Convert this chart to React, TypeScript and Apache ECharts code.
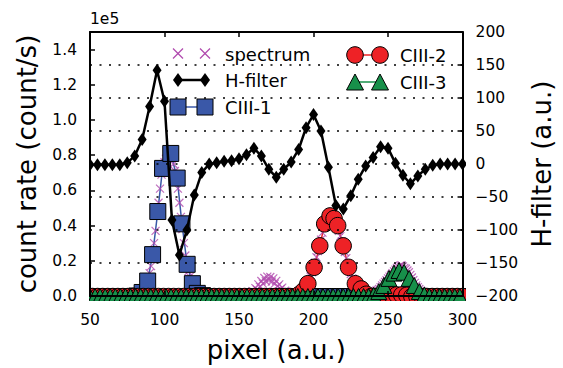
import React, { useEffect, useRef } from "react";
import * as echarts from "echarts";

// ---- data -------------------------------------------------------------

// measured spectrum, one sample per pixel starting at pixel 50 (count/s, units of 1e5)
const spectrumFirstPixel = 50;
const spectrumCounts = [
  // 50-79
  0.004, 0.006, 0.003, 0.005, 0.007, 0.004, 0.005, 0.003, 0.006, 0.004,
  0.005, 0.007, 0.004, 0.006, 0.003, 0.005, 0.004, 0.006, 0.005, 0.004,
  0.006, 0.005, 0.007, 0.004, 0.006, 0.008, 0.007, 0.009, 0.008, 0.010,
  // 80-129
  0.010, 0.012, 0.014, 0.016, 0.020, 0.025, 0.035, 0.050, 0.070, 0.095,
  0.130, 0.170, 0.230, 0.300, 0.370, 0.460, 0.530, 0.610, 0.690, 0.740,
  0.760, 0.780, 0.800, 0.810, 0.810, 0.790, 0.750, 0.710, 0.670, 0.610,
  0.530, 0.450, 0.380, 0.300, 0.230, 0.180, 0.140, 0.110, 0.085, 0.060,
  0.045, 0.033, 0.022, 0.016, 0.012, 0.010, 0.008, 0.007, 0.006, 0.005,
  // 130-157
  0.005, 0.004, 0.006, 0.005, 0.003, 0.006, 0.004, 0.005, 0.007, 0.004,
  0.005, 0.006, 0.004, 0.005, 0.003, 0.006, 0.005, 0.004, 0.006, 0.005,
  0.004, 0.007, 0.005, 0.006, 0.008, 0.007, 0.010, 0.012,
  // 158-184
  0.012, 0.028, 0.020, 0.045, 0.036, 0.066, 0.052, 0.085, 0.070, 0.102,
  0.084, 0.110, 0.092, 0.108, 0.082, 0.100, 0.070, 0.086, 0.056, 0.066,
  0.040, 0.048, 0.024, 0.030, 0.012, 0.016, 0.008,
  // 185-188
  0.006, 0.005, 0.007, 0.008,
  // 189-236
  0.010, 0.015, 0.020, 0.025, 0.035, 0.045, 0.055, 0.070, 0.090, 0.110,
  0.135, 0.160, 0.190, 0.220, 0.255, 0.285, 0.320, 0.360, 0.400, 0.425,
  0.440, 0.450, 0.455, 0.455, 0.450, 0.440, 0.420, 0.400, 0.370, 0.340,
  0.310, 0.285, 0.250, 0.215, 0.180, 0.150, 0.125, 0.100, 0.085, 0.070,
  0.060, 0.050, 0.045, 0.040, 0.030, 0.022, 0.016, 0.012,
  // 237-241
  0.010, 0.012, 0.015, 0.020, 0.025,
  // 242-275
  0.030, 0.035, 0.040, 0.050, 0.060, 0.070, 0.080, 0.090, 0.100, 0.110,
  0.120, 0.130, 0.140, 0.150, 0.160, 0.165, 0.172, 0.175, 0.168, 0.160,
  0.155, 0.145, 0.135, 0.120, 0.105, 0.090, 0.075, 0.060, 0.050, 0.040,
  0.030, 0.025, 0.020, 0.016,
  // 276-300
  0.012, 0.010, 0.009, 0.008, 0.007, 0.006, 0.007, 0.005, 0.006, 0.004,
  0.005, 0.006, 0.004, 0.005, 0.003, 0.005, 0.004, 0.006, 0.005, 0.004,
  0.005, 0.003, 0.005, 0.004, 0.005,
];

// H-filter response (a.u.), right axis
const hFilterPixels = [
  50, 55, 60, 65, 70, 75, 80, 85, 90, 95,
  100, 105, 110, 115, 120, 125, 130, 135, 140, 145,
  150, 155, 160, 165, 170, 175, 180, 185, 190, 195,
  200, 205, 210, 215, 220, 225, 230, 235, 240, 245,
  250, 255, 260, 265, 270, 275, 280, 285, 290, 295,
  300,
];
const hFilterValues = [
  -1, -1, -1, -1, -1, 2, 12, 37, 87, 142,
  95, -85, -138, -100, -47, -13, 0, 2, 4, 5,
  8, 14, 24, 12, -8, -20, -8, 3, 22, 55,
  75, 50, -5, -63, -68, -48, -23, -3, 10, 26,
  24, 1, -17, -30, -18, -8, -2, 0, 0, 0,
  0,
];

// fitted line components: [pixel, count rate]; Z is the floor level just under the axis
const Z = -0.003;
const ciii1Points = [
  [50.9, Z], [54.3, Z], [57.7, Z], [61.1, Z], [64.5, Z], [67.9, Z], [71.3, Z], [74.7, Z], [78.1, Z], [81.5, 0.0],
  [85.0, 0.02], [88.7, 0.085], [92.0, 0.235], [95.5, 0.48], [98.7, 0.725], [104.2, 0.81], [108.5, 0.67],
  [111.7, 0.41], [115.2, 0.18], [118.7, 0.07], [122.0, 0.015], [125.5, 0.002],
  [128.9, Z], [132.3, Z], [135.7, Z], [139.1, Z], [142.5, Z], [145.9, Z], [149.3, Z], [152.7, Z], [156.1, Z],
  [159.5, Z], [162.9, Z], [166.3, Z], [169.7, Z], [173.1, Z], [176.5, Z], [179.9, Z], [183.3, Z], [186.7, Z],
  [190.1, Z], [193.5, Z], [196.9, Z], [200.3, Z], [203.7, Z], [207.1, Z], [210.5, Z], [213.9, Z], [217.3, Z],
  [220.7, Z], [224.1, Z], [227.5, Z], [230.9, Z], [234.3, Z], [237.7, Z], [241.1, Z], [244.5, Z], [247.9, Z],
  [251.3, Z], [254.7, Z], [258.1, Z], [261.5, Z], [264.9, Z], [268.3, Z], [271.7, Z], [275.1, Z], [278.5, Z],
  [281.9, Z], [285.3, Z], [288.7, Z], [292.1, Z], [295.5, Z], [298.9, Z],
];
const ciii2Points = [
  [51.7, Z], [55.1, Z], [58.5, Z], [61.9, Z], [65.3, Z], [68.7, Z], [72.1, Z], [75.5, Z], [78.9, Z], [82.3, Z],
  [85.7, Z], [89.1, Z], [92.5, Z], [95.9, Z], [99.3, Z], [102.7, Z], [106.1, Z], [109.5, Z], [112.9, Z], [116.3, Z],
  [119.7, Z], [123.1, Z], [126.5, Z], [129.9, Z], [133.3, Z], [136.7, Z], [140.1, Z], [143.5, Z], [146.9, Z],
  [150.3, Z], [153.7, Z], [157.1, Z], [160.5, Z], [163.9, Z], [167.3, Z], [170.7, Z], [174.1, Z], [177.5, Z],
  [180.9, Z], [184.3, Z], [187.7, Z],
  [190.6, 0.01], [193.3, 0.03], [196.2, 0.07], [200.4, 0.163], [204.2, 0.285], [207.5, 0.41], [211.1, 0.455],
  [213.8, 0.44], [216.2, 0.4], [219.9, 0.285], [223.5, 0.163], [228.1, 0.07], [232.0, 0.04], [235.4, 0.01],
  [238.8, Z], [242.2, Z], [245.6, Z], [249.0, 0.004], [252.4, 0.006], [255.8, 0.006], [259.2, 0.006], [262.6, 0.004],
  [266.0, Z], [269.4, Z], [272.8, Z], [276.2, Z], [279.6, Z], [283.0, Z], [286.4, Z], [289.8, Z], [293.2, Z],
  [296.6, Z], [300.0, Z],
];
const ciii3Points = [
  [50.0, Z], [53.4, Z], [56.8, Z], [60.2, Z], [63.6, Z], [67.0, Z], [70.4, Z], [73.8, Z], [77.2, Z], [80.6, Z],
  [84.0, Z], [87.4, Z], [90.8, Z], [94.2, Z], [97.6, Z], [101.0, Z], [104.4, Z], [107.8, Z], [111.2, Z], [114.6, Z],
  [118.0, Z], [121.4, Z], [124.8, Z], [128.2, Z], [131.6, Z], [135.0, Z], [138.4, Z], [141.8, Z], [145.2, Z],
  [148.6, Z], [152.0, Z], [155.4, Z], [158.8, Z], [162.2, Z], [165.6, Z], [169.0, Z], [172.4, Z], [175.8, Z],
  [179.2, Z], [182.6, Z], [186.0, Z], [189.4, Z], [192.8, Z], [196.2, Z], [199.6, Z], [203.0, Z], [206.4, Z],
  [209.8, Z], [213.2, Z], [216.6, Z], [220.0, Z], [223.4, Z], [226.8, Z], [230.2, Z], [233.6, Z], [237.0, Z], [240.4, 0.004],
  [243.8, 0.025], [247.2, 0.06], [250.6, 0.1], [254.0, 0.13], [257.4, 0.145], [260.8, 0.135], [264.2, 0.1],
  [267.6, 0.06], [271.0, 0.025], [274.4, 0.006],
  [277.8, Z], [281.2, Z], [284.6, Z], [288.0, Z], [291.4, Z], [294.8, Z], [298.2, Z],
];

// axis ranges and tick steps
const pixelRange = [50, 300];
const pixelStep = 50;
const countRange = [0, 1.5];
const countStep = 0.2;
const filterRange = [-200, 200];
const filterStep = 50;

// ---- styling ----------------------------------------------------------

const FONT = '"DejaVu Sans", "Noto Sans", sans-serif';
const MAGENTA = "#B04AAE";
const BLUE = "#3A58A8";
const RED = "#EE2226";
const GREEN = "#17904A";

const GRID = { left: 90, right: 98, top: 32, bottom: 68 };
const W = 563;
const H = 368;

const crossSymbol = "path://M0,0L10,10M10,0L0,10";
const diamondSymbol = "path://M5,0L10,7L5,14L0,7Z";

const minus = (v: number) => (v < 0 ? "\u2212" + Math.abs(v) : String(v));

function frameAxis(extra: any) {
  return {
    type: "value",
    z: 10,
    axisLine: { show: true, onZero: false, lineStyle: { color: "#000", width: 2 } },
    axisTick: { show: true, inside: true, length: 5, lineStyle: { color: "#000", width: 1.5 } },
    axisLabel: { show: true, color: "#000", fontSize: 15.5, fontFamily: FONT, margin: 13 },
    splitLine: { show: false },
    ...extra,
  };
}

// legend drawn as graphic elements: two markers joined by the series line
function legendGraphics() {
  const els: any[] = [];
  const z = 20;
  const text = (label: string, x: number, y: number) => ({
    type: "text",
    z,
    silent: true,
    style: {
      text: label,
      x,
      y,
      fill: "#000",
      font: `18px ${FONT}`,
      textVerticalAlign: "middle",
      verticalAlign: "middle",
    },
  });
  const seg = (x1: number, x2: number, y: number, color: string, w: number) => ({
    type: "line",
    z,
    silent: true,
    shape: { x1, y1: y, x2, y2: y },
    style: { stroke: color, lineWidth: w },
  });

  const a = 178, b = 205, t1 = 225;
  const c = 355, d = 380, t2 = 400;

  // spectrum
  [a, b].forEach((x) => {
    const y = 53.5, r = 5;
    els.push({ type: "line", z, silent: true, shape: { x1: x - r, y1: y - r, x2: x + r, y2: y + r }, style: { stroke: MAGENTA, lineWidth: 1.3 } });
    els.push({ type: "line", z, silent: true, shape: { x1: x - r, y1: y + r, x2: x + r, y2: y - r }, style: { stroke: MAGENTA, lineWidth: 1.3 } });
  });
  els.push(text("spectrum", t1, 54));

  // H-filter
  els.push(seg(a, b, 80, "#000", 2.5));
  [a, b].forEach((x) => {
    const y = 80;
    els.push({ type: "polygon", z, silent: true, shape: { points: [[x, y - 7], [x + 5, y], [x, y + 7], [x - 5, y]] }, style: { fill: "#000" } });
  });
  els.push(text("H-filter", t1, 80));

  // CIII-1
  els.push(seg(a, b, 107, BLUE, 1.5));
  [a, b].forEach((x) => {
    els.push({ type: "rect", z, silent: true, shape: { x: x - 8, y: 107 - 8, width: 16, height: 16 }, style: { fill: BLUE, stroke: "#000", lineWidth: 1 } });
  });
  els.push(text("CIII-1", t1, 107));

  // CIII-2
  els.push(seg(c, d, 55, RED, 1.5));
  [c, d].forEach((x) => {
    els.push({ type: "circle", z, silent: true, shape: { cx: x, cy: 55, r: 8.3 }, style: { fill: RED, stroke: "#000", lineWidth: 1 } });
  });
  els.push(text("CIII-2", t2, 55));

  // CIII-3
  els.push(seg(c, d, 82, GREEN, 1.5));
  [c, d].forEach((x) => {
    const y = 82;
    els.push({ type: "polygon", z, silent: true, shape: { points: [[x, y - 8], [x + 8.5, y + 8], [x - 8.5, y + 8]] }, style: { fill: GREEN, stroke: "#000", lineWidth: 1 } });
  });
  els.push(text("CIII-3", t2, 82));

  return els;
}

// white bands around the plot box so markers stop at the frame
function frameMasks() {
  const plotRight = W - GRID.right;
  const plotBottom = H - GRID.bottom;
  const fill = { fill: "#fff" };
  return [
    { type: "rect", z: 5, silent: true, shape: { x: 0, y: plotBottom + 1, width: W, height: 16 }, style: fill },
    { type: "rect", z: 5, silent: true, shape: { x: 0, y: 20, width: GRID.left - 1, height: plotBottom - 3 }, style: fill },
    { type: "rect", z: 5, silent: true, shape: { x: plotRight + 1, y: 20, width: GRID.right - 1, height: plotBottom - 3 }, style: fill },
  ];
}

export default function App() {
  const ref = useRef<HTMLDivElement>(null);

  useEffect(() => {
    document.body.style.margin = "0";
    const chart = echarts.init(ref.current!, undefined, { renderer: "svg" });

    const option: any = {
      animation: false,
      backgroundColor: "#fff",
      textStyle: { fontFamily: FONT },
      grid: { ...GRID, containLabel: false },
      xAxis: [
        frameAxis({
          position: "bottom",
          min: pixelRange[0],
          max: pixelRange[1],
          interval: pixelStep,
          axisLabel: { show: true, color: "#000", fontSize: 15.5, fontFamily: FONT, margin: 16 },
          name: "pixel (a.u.)",
          nameLocation: "middle",
          nameGap: 41,
          nameTextStyle: { fontSize: 26, color: "#000", fontFamily: FONT },
        }),
        frameAxis({
          position: "top",
          min: pixelRange[0],
          max: pixelRange[1],
          interval: pixelStep,
          axisLabel: { show: false },
        }),
      ],
      yAxis: [
        frameAxis({
          position: "left",
          min: countRange[0],
          max: countRange[1],
          interval: countStep,
          axisLabel: {
            show: true,
            color: "#000",
            fontSize: 15.5,
            fontFamily: FONT,
            margin: 13,
            formatter: (v: number) => (v > 1.45 ? "" : v.toFixed(1)),
          },
          name: "count rate (count/s)",
          nameLocation: "middle",
          nameRotate: 90,
          nameGap: 50,
          nameTextStyle: { fontSize: 26, color: "#000", fontFamily: FONT },
        }),
        frameAxis({
          position: "right",
          min: filterRange[0],
          max: filterRange[1],
          interval: filterStep,
          axisLabel: {
            show: true,
            color: "#000",
            fontSize: 15.5,
            fontFamily: FONT,
            margin: 13,
            formatter: minus,
          },
          splitLine: { show: true, lineStyle: { color: "#000", width: 1.5, type: [2, 7.5] } },
          name: "H-filter (a.u.)",
          nameLocation: "middle",
          nameRotate: 90,
          nameGap: 64,
          nameTextStyle: { fontSize: 26, color: "#000", fontFamily: FONT },
        }),
      ],
      series: [
        {
          name: "spectrum",
          type: "scatter",
          xAxisIndex: 0,
          yAxisIndex: 0,
          data: spectrumCounts.map((c, i) => [spectrumFirstPixel + i, c]),
          symbol: crossSymbol,
          symbolSize: 8,
          itemStyle: { color: "rgba(0,0,0,0)", borderColor: MAGENTA, borderWidth: 1.2 },
          clip: false,
          silent: true,
          z: 2,
        },
        {
          name: "CIII-1",
          type: "line",
          xAxisIndex: 0,
          yAxisIndex: 0,
          data: ciii1Points,
          symbol: "rect",
          symbolSize: 16,
          showAllSymbol: true,
          itemStyle: { color: BLUE, borderColor: "#000", borderWidth: 1 },
          lineStyle: { color: BLUE, width: 1.5 },
          clip: false,
          silent: true,
          z: 2,
        },
        {
          name: "CIII-2",
          type: "line",
          xAxisIndex: 0,
          yAxisIndex: 0,
          data: ciii2Points,
          symbol: "circle",
          symbolSize: 16.5,
          showAllSymbol: true,
          itemStyle: { color: RED, borderColor: "#000", borderWidth: 1 },
          lineStyle: { color: RED, width: 1.5 },
          clip: false,
          silent: true,
          z: 2,
        },
        {
          name: "CIII-3",
          type: "line",
          xAxisIndex: 0,
          yAxisIndex: 0,
          data: ciii3Points,
          symbol: "triangle",
          symbolSize: 16,
          showAllSymbol: true,
          itemStyle: { color: GREEN, borderColor: "#000", borderWidth: 1 },
          lineStyle: { color: GREEN, width: 1.5 },
          clip: false,
          silent: true,
          z: 2,
        },
        {
          name: "H-filter",
          type: "line",
          xAxisIndex: 0,
          yAxisIndex: 1,
          data: hFilterPixels.map((p, i) => [p, hFilterValues[i]]),
          symbol: diamondSymbol,
          symbolSize: [9, 13],
          showAllSymbol: true,
          itemStyle: { color: "#000" },
          lineStyle: { color: "#000", width: 2.5 },
          clip: false,
          silent: true,
          z: 3,
        },
      ],
      graphic: {
        elements: [
          ...frameMasks(),
          {
            type: "text",
            z: 20,
            silent: true,
            style: { text: "1e5", x: GRID.left, y: 19, fill: "#000", font: `15.5px ${FONT}`, textVerticalAlign: "middle", verticalAlign: "middle" },
          },
          ...legendGraphics(),
        ],
      },
    };

    chart.setOption(option);
    return () => chart.dispose();
  }, []);

  return (
    <div
      ref={ref}
      style={{ width: W, height: H, position: "absolute", left: 0, top: 0, background: "#fff" }}
    />
  );
}
